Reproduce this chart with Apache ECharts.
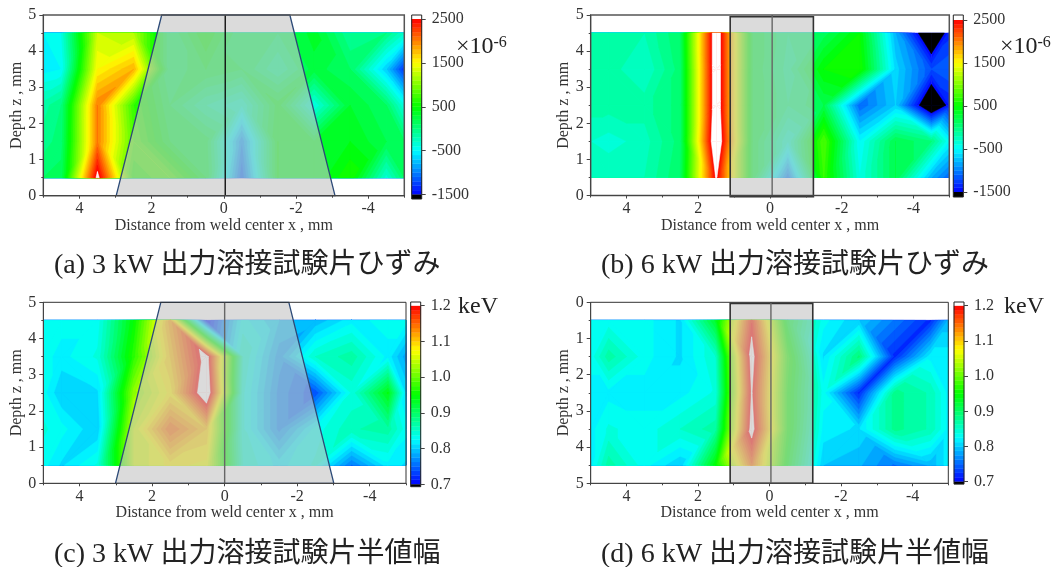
<!DOCTYPE html>
<html><head><meta charset="utf-8">
<style>html,body{margin:0;padding:0;background:#fff}#c{width:1057px;height:567px}</style>
<script src="https://cdn.jsdelivr.net/npm/echarts@6/dist/echarts.min.js"></script>
</head><body><div id="c"></div>
<script>
// measurement nodes
const xNodes = [5,4.5,3.5,2.5,1.5,0.5,-0.5,-1.5,-2.5,-3.5,-4.5,-5];
const zNodes = [0.5,1.5,2.5,3.5,4.5];
const xMajorTicks = [4,2,0,-2,-4];
const xMinorTicks = [5,3,1,-1,-3,-5];
const strainTicks = [-1500,-500,500,1500,2500];
const fwhmTicks = [0.7,0.8,0.9,1.0,1.1,1.2];
// rows follow zNodes, columns follow xNodes
const strain3kW = [
 [100,150,2600,600,800,300,-1100,400,300,600,-350,100],
 [-50,50,2000,800,300,250,-900,400,300,400,200,100],
 [-150,0,2000,700,200,-100,-300,350,-400,300,100,-400],
 [-550,-500,1500,1800,100,300,200,-100,250,100,-700,-1300],
 [-500,-400,1300,1200,100,500,100,100,350,-100,0,-300]];
const strain6kW = [
 [-200,-200,-200,100,2550,300,-1000,700,-400,200,-800,-1100],
 [-300,-350,-250,50,2900,300,-300,800,-500,200,0,-500],
 [-150,-150,-150,50,2800,300,0,200,-1100,-700,-1900,-1400],
 [-150,-150,-300,50,2800,300,-50,500,600,-650,-1200,-1100],
 [-150,-150,-200,100,2800,300,0,150,500,-800,-1900,-1350]];
const fwhm3kW = [
 [.83,.81,.84,1.05,1.08,1.07,.85,.82,.84,.76,.82,.81],
 [.84,.83,.80,1.05,1.15,1.10,.84,.77,.83,.86,.87,.83],
 [.83,.80,.81,1.02,1.08,1.24,.84,.77,.74,.84,.94,.81],
 [.83,.82,.84,.97,1.10,1.22,.85,.78,.85,.87,.82,.78],
 [.83,.83,.83,.95,1.12,.71,.83,.80,.79,.82,.83,.83]];
const fwhm6kW = [
 [.83,.83,.83,.81,.93,1.185,.93,.83,.80,.76,.72,.79],
 [.83,.87,.83,.81,.85,1.218,.97,.81,.89,.72,.82,.82],
 [.82,.82,.82,.82,.84,1.203,.96,.83,.72,.88,.86,.82],
 [.82,.84,.83,.85,.87,1.218,.96,.82,.81,.88,.86,.82],
 [.82,.87,.83,.80,.95,1.146,.94,.80,.79,.76,.79,.82]];
// weld-bead outlines
const weldA = {x:[1.72,-1.83,-3.08,2.98], z:[5,5,0,0], center:-0.04};
const weldB = {x:[1.11,-1.21,-1.21,1.11], z:[4.95,4.95,-0.03,-0.03], center:-0.06};
const weldC = {x:[1.76,-1.77,-3.01,3.01], z:[5,5,0,0], center:0};
const weldD = {x:[1.10,-1.21,-1.21,1.10], z:[0.03,0.03,5,5], center:-0.04};
const captions = ['(a) 3 kW 出力溶接試験片ひずみ','(b) 6 kW 出力溶接試験片ひずみ','(c) 3 kW 出力溶接試験片半値幅','(d) 6 kW 出力溶接試験片半値幅'];
const xTitle = 'Distance from weld center x , mm';
const zTitle = 'Depth z , mm';

const SERIF = '"Liberation Serif","Noto Sans CJK JP",serif';
const BANDS = 40;

function rainbow(t){
  const stops=[[0,0,255],[0,255,255],[0,255,0],[255,255,0],[255,0,0]];
  t=Math.max(0,Math.min(1,t))*4;
  const i=Math.min(3,Math.floor(t)),f=t-i,a=stops[i],b=stops[i+1];
  return 'rgb('+a.map((c,k)=>Math.round(c+(b[k]-c)*f)).join(',')+')';
}
function layers(min,max){
  // painted in this order: lowest band over everything, black below min, then rising bands, white above max
  const step=(max-min)/BANDS, out=[{mode:'all',h:min+step,l:min,c:rainbow(.5/BANDS)},{mode:'below',l:min,c:'#000'}];
  for(let i=1;i<BANDS;i++) out.push({mode:'above',l:min+i*step,h:min+(i+1)*step,c:rainbow((i+.5)/BANDS)});
  out.push({mode:'above',l:max,c:'#fff'});
  return out;
}
function clipTri(tri,L,sign){
  const out=[];
  for(let i=0;i<tri.length;i++){
    const a=tri[i],b=tri[(i+1)%tri.length];
    const ia=sign*(a[2]-L)>=0, ib=sign*(b[2]-L)>=0;
    if(ia) out.push(a);
    if(ia!==ib){
      const f=(L-a[2])/(b[2]-a[2]);
      out.push([a[0]+(b[0]-a[0])*f,a[1]+(b[1]-a[1])*f,L]);
    }
  }
  return out;
}
const cfg=[
 {grid:[43.3,15,361,180.7],bar:[411.7,19,10,175.5],cap:[4,4.5],vals:strain3kW,ticks:strainTicks,min:-1500,max:2500,weld:weldA,zInv:false,
  frame:'#555',fw:1.5,edge:'#2c4a78',ew:1.3,centre:'#111',cap0:[54,266]},
 {grid:[590.7,15,358.6,180.5],bar:[953.3,20,10,172],cap:[5,5],vals:strain6kW,ticks:strainTicks,min:-1500,max:2500,weld:weldB,zInv:false,
  frame:'#555',fw:1.5,edge:'#333',ew:1.6,centre:'#666',cap0:[601,266]},
 {grid:[43.3,302.3,362.7,181],bar:[410.7,305.7,10,178.6],cap:[3.7,2.4],vals:fwhm3kW,ticks:fwhmTicks,min:.7,max:1.2,weld:weldC,zInv:false,
  frame:'#333',fw:1,edge:'#2c4a78',ew:1.3,centre:'#666',cap0:[54,555]},
 {grid:[590.7,302.3,357.6,181],bar:[954,305.7,10,176],cap:[3.7,2.4],vals:fwhm6kW,ticks:fwhmTicks,min:.7,max:1.2,weld:weldD,zInv:true,
  frame:'#333',fw:1,edge:'#333',ew:1.6,centre:'#666',cap0:[601,555]}
];
const grids=[],xAxes=[],yAxes=[],series=[],graphics=[];
const axisCol='#444', labelCol='#333';
cfg.forEach((p,n)=>{
  const lay=layers(p.min,p.max);
  const gi=grids.length, xi=xAxes.length, yi=yAxes.length;
  grids.push({left:p.grid[0],top:p.grid[1],width:p.grid[2],height:p.grid[3]});
  xAxes.push({type:'value',gridIndex:gi,min:-5,max:5,inverse:true,position:'bottom',z:6,splitLine:{show:false},
    axisLine:{onZero:false,lineStyle:{color:axisCol,width:1}},
    axisTick:{show:true,length:3,inside:false,customValues:xMajorTicks,lineStyle:{color:axisCol}},
    axisLabel:{show:true,margin:5,customValues:xMajorTicks,color:labelCol,fontFamily:SERIF,fontSize:16,formatter:v=>String(v)},
    name:xTitle,nameLocation:'middle',nameGap:18,nameTextStyle:{fontFamily:SERIF,fontSize:16,color:labelCol}});
  xAxes.push({type:'value',gridIndex:gi,min:-5,max:5,inverse:true,position:'bottom',z:6,splitLine:{show:false},
    axisLine:{show:false,onZero:false},axisLabel:{show:false},
    axisTick:{show:true,length:2,customValues:xMinorTicks,lineStyle:{color:axisCol}}});
  yAxes.push({type:'value',gridIndex:gi,min:0,max:5,interval:1,inverse:p.zInv,position:'left',z:6,splitLine:{show:false},
    axisLine:{onZero:false,lineStyle:{color:axisCol,width:1}},
    axisTick:{show:true,length:4,lineStyle:{color:axisCol}},
    minorTick:{show:true,splitNumber:2,length:2,lineStyle:{color:axisCol}},minorSplitLine:{show:false},
    axisLabel:{margin:7,color:labelCol,fontFamily:SERIF,fontSize:16},
    name:zTitle,nameLocation:'middle',nameGap:19,nameTextStyle:{fontFamily:SERIF,fontSize:16,color:labelCol}});
  // contour: one data item per colour layer, painted in order over all grid triangles
  const cells=[];
  for(let j=0;j<zNodes.length-1;j++) for(let i=0;i<xNodes.length-1;i++)
    cells.push([xNodes[i],xNodes[i+1],zNodes[j],zNodes[j+1],p.vals[j][i],p.vals[j][i+1],p.vals[j+1][i],p.vals[j+1][i+1]]);
  series.push({type:'custom',xAxisIndex:xi,yAxisIndex:yi,coordinateSystem:'cartesian2d',silent:true,z:2,clip:true,
    data:lay.map((L,k)=>[k]),encode:{},
    renderItem:(params,api)=>{
      const L=lay[params.dataIndex];
      const children=[];
      cells.forEach(c=>{
        const P=(x,z,val)=>{const q=api.coord([x,z]);return [q[0],q[1],val];};
        const a=P(c[0],c[2],c[4]),b=P(c[1],c[2],c[5]),d=P(c[0],c[3],c[6]),e=P(c[1],c[3],c[7]);
        // split each cell along the diagonal whose ends have the closest values
        const tris=Math.abs(c[4]-c[7])<=Math.abs(c[5]-c[6])?[[a,b,e],[a,e,d]]:[[a,b,d],[b,e,d]];
        tris.forEach(tri=>{
          const poly=L.mode==='all'?tri:clipTri(tri,L.l,L.mode==='below'?-1:1);
          if(poly.length<3) return;
          children.push({type:'polygon',shape:{points:poly.map(q=>[q[0],q[1]])},
            style:{fill:L.c,stroke:L.c,lineWidth:.5}});
        });
      });
      return {type:'group',children};
    }});
  // weld overlay, centre line, frame
  const w=p.weld;
  series.push({type:'custom',xAxisIndex:xi,yAxisIndex:yi,coordinateSystem:'cartesian2d',silent:true,z:3,clip:false,
    data:w.x.map((x,i)=>[x,w.z[i]]),encode:{x:0,y:1},
    renderItem:(params,api)=>{
      if(params.dataIndex!==0) return null;
      const pts=w.x.map((x,i)=>api.coord([x,w.z[i]]));
      return {type:'polygon',shape:{points:pts},style:{fill:'rgba(195,195,195,0.6)',stroke:p.edge,lineWidth:p.ew}};
    }});
  series.push({type:'custom',xAxisIndex:xi,yAxisIndex:yi,coordinateSystem:'cartesian2d',silent:true,z:4,clip:false,
    data:[[w.center,0,5]],encode:{x:0,y:[1,2]},
    renderItem:(params,api)=>{
      const a=api.coord([api.value(0),api.value(1)]),b=api.coord([api.value(0),api.value(2)]);
      return {type:'line',shape:{x1:a[0],y1:a[1],x2:b[0],y2:b[1]},style:{stroke:p.centre,lineWidth:1.4}};
    }});
  series.push({type:'custom',xAxisIndex:xi,yAxisIndex:yi,coordinateSystem:'cartesian2d',silent:true,z:5,clip:false,
    data:[[-5,5,0,5]],encode:{x:[0,1],y:[2,3]},
    renderItem:(params,api)=>{
      const a=api.coord([5,0]),b=api.coord([-5,5]);
      return {type:'rect',shape:{x:Math.min(a[0],b[0]),y:Math.min(a[1],b[1]),width:Math.abs(a[0]-b[0]),height:Math.abs(a[1]-b[1])},
        style:{fill:'none',stroke:p.frame,lineWidth:p.fw}};
    }});
  // colour bar
  const bands=lay.filter(L=>L.h!==undefined);
  const gb=grids.length, xb=xAxes.length, yb=yAxes.length;
  grids.push({left:p.bar[0],top:p.bar[1],width:p.bar[2],height:p.bar[3]});
  xAxes.push({type:'value',gridIndex:gb,min:0,max:1,show:false});
  const step=(p.ticks[1]-p.ticks[0]);
  yAxes.push({type:'value',gridIndex:gb,min:p.min,max:p.max,interval:step,position:'right',z:6,splitLine:{show:false},
    axisLine:{show:false,onZero:false},axisTick:{show:true,length:4,lineStyle:{color:axisCol}},
    axisLabel:{margin:10,color:labelCol,fontFamily:SERIF,fontSize:16,
      formatter:v=>p.max>100?String(Math.round(v)):v.toFixed(1)}});
  series.push({type:'custom',xAxisIndex:xb,yAxisIndex:yb,coordinateSystem:'cartesian2d',silent:true,z:2,clip:false,
    data:bands.map(L=>[L.l,L.h]),encode:{y:[0,1]},
    renderItem:(params,api)=>{
      const a=api.coord([0,api.value(0)]),b=api.coord([1,api.value(1)]);
      const col=bands[params.dataIndex].c;
      return {type:'rect',shape:{x:a[0],y:b[1],width:b[0]-a[0],height:a[1]-b[1]},style:{fill:col,stroke:col,lineWidth:.4}};
    }});
  series.push({type:'custom',xAxisIndex:xb,yAxisIndex:yb,coordinateSystem:'cartesian2d',silent:true,z:3,clip:false,
    data:[[p.min,p.max]],encode:{y:[0,1]},
    renderItem:(params,api)=>{
      const a=api.coord([0,api.value(0)]),b=api.coord([1,api.value(1)]);
      const W=b[0]-a[0],top=b[1]-p.cap[0],bot=a[1]+p.cap[1];
      return {type:'group',children:[
        {type:'rect',shape:{x:a[0],y:top,width:W,height:p.cap[0]},style:{fill:'#fff'}},
        {type:'rect',shape:{x:a[0],y:a[1],width:W,height:p.cap[1]},style:{fill:'#000'}},
        {type:'rect',shape:{x:a[0],y:top,width:W,height:bot-top},style:{fill:'none',stroke:'#222',lineWidth:1}}
      ]};
    }});
  graphics.push({type:'text',silent:true,style:{text:captions[n],x:p.cap0[0],y:p.cap0[1],
    font:'28px '+SERIF,fill:'#222',textAlign:'left',textVerticalAlign:'middle'}});
});
// unit labels
[[456,47],[1000,47]].forEach(q=>graphics.push({type:'text',silent:true,style:{
  text:'{a|×10}{b|-6}',x:q[0],y:q[1],textAlign:'left',textVerticalAlign:'middle',
  rich:{a:{fontFamily:SERIF,fontSize:24,fill:'#222',color:'#222'},b:{fontFamily:SERIF,fontSize:16,fill:'#222',color:'#222',verticalAlign:'top',padding:[0,0,8,0]}}}}));
[[458,307],[1004,307]].forEach(q=>graphics.push({type:'text',silent:true,style:{
  text:'keV',x:q[0],y:q[1],font:'24px '+SERIF,fill:'#222',textAlign:'left',textVerticalAlign:'middle'}}));

const chart=echarts.init(document.getElementById('c'),null,{renderer:'canvas'});
chart.setOption({animation:false,backgroundColor:'#fff',grid:grids,xAxis:xAxes,yAxis:yAxes,series:series,graphic:graphics});
</script></body></html>
